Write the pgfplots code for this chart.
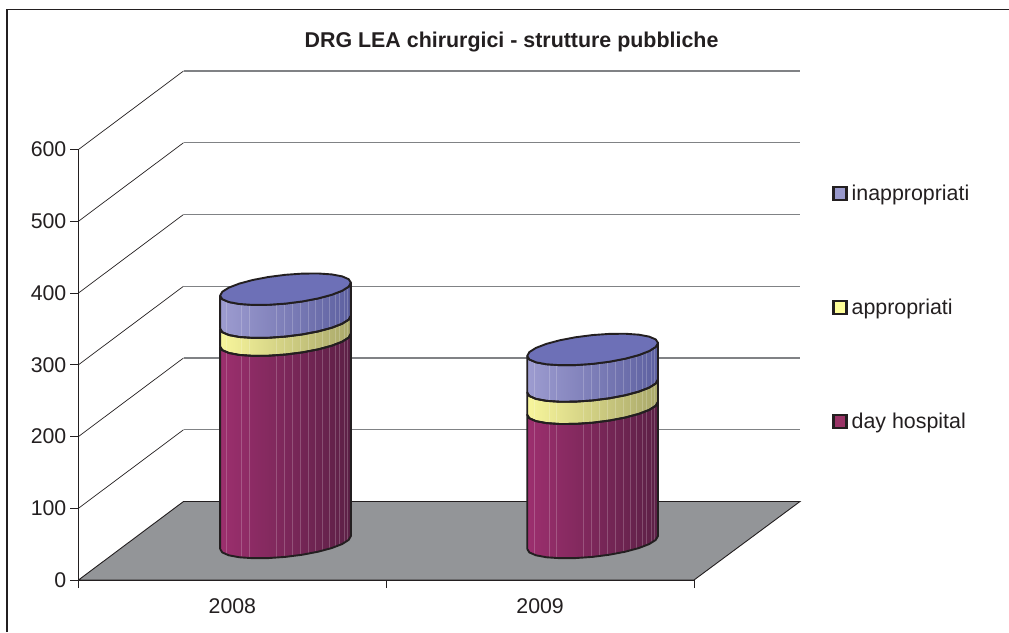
\documentclass[border=0pt]{standalone}
\usepackage{fontspec}
\setmainfont{Liberation Sans}
\usepackage{pgfplots}
\usepackage{pgfplotstable}
\pgfplotsset{compat=1.18}
\definecolor{ink}{HTML}{231F20}
\definecolor{floorc}{HTML}{939598}
\definecolor{gridc}{HTML}{808285}
\definecolor{dayA}{HTML}{9C2F6E}\definecolor{dayB}{HTML}{822B5F}\definecolor{dayC}{HTML}{5C2046}
\definecolor{appA}{HTML}{F8F69C}\definecolor{appB}{HTML}{DCDA88}\definecolor{appC}{HTML}{A9A86A}
\definecolor{inaA}{HTML}{9D9CD0}\definecolor{inaB}{HTML}{7F80BE}\definecolor{inaC}{HTML}{5D60A0}
\definecolor{capc}{HTML}{6D70B7}
\definecolor{legday}{HTML}{993366}\definecolor{legapp}{HTML}{FFFF99}\definecolor{legina}{HTML}{9999CC}
% outline of one slice of a cylinder, offsets in picture units
\pgfplotstableread{
dx dy lev
-65.40 -6.50 0
-63.17 -10.01 0
-56.64 -12.83 0
-46.24 -14.78 0
-32.70 -15.72 0
-16.93 -15.59 0
0.00 -14.40 0
16.93 -12.23 0
32.70 -9.22 0
46.24 -5.58 0
56.64 -1.57 0
63.17 2.55 0
65.40 6.50 0
65.40 6.50 1
63.17 2.55 1
56.64 -1.57 1
46.24 -5.58 1
32.70 -9.22 1
16.93 -12.23 1
0.00 -14.40 1
-16.93 -15.59 1
-32.70 -15.72 1
-46.24 -14.78 1
-56.64 -12.83 1
-63.17 -10.01 1
-65.40 -6.50 1
-65.40 -6.50 0
}\sidetab
\pgfplotstableread{
dx dy
-65.40 -6.50
-63.17 -10.01
-56.64 -12.83
-46.24 -14.78
-32.70 -15.72
-16.93 -15.59
0.00 -14.40
16.93 -12.23
32.70 -9.22
46.24 -5.58
56.64 -1.57
63.17 2.55
65.40 6.50
63.17 10.01
56.64 12.83
46.24 14.78
32.70 15.72
16.93 15.59
0.00 14.40
-16.93 12.23
-32.70 9.22
-46.24 5.58
-56.64 1.57
-63.17 -2.55
-65.40 -6.50
}\captab
\pgfplotstableread{
dx dy
-58.8 -12.15
-43.8 -15.04
-36.2 -15.60
-9.5 -15.19
-1.5 -14.55
6.8 -13.64
14.5 -12.60
22.8 -11.23
30.2 -9.77
37.2 -8.14
43.8 -6.34
49.5 -4.49
53.8 -2.83
58.5 -0.63
61.8 1.43
}\stripetab
% #1 centre, #2 from value, #3 to value, #4 colour stem
\newcommand\segfill[4]{\addplot[forget plot,draw=none,left color=#4A,middle color=#4B,right color=#4C]
 table[x expr=#1+\thisrow{dx}/307.75,y expr=52.3+#2+\thisrow{lev}*(#3-#2)+\thisrow{dy}/0.7175]{\sidetab};}
\newcommand\segline[3]{\addplot[forget plot,draw=ink,line width=1.9pt,line join=round,no marks]
 table[x expr=#1+\thisrow{dx}/307.75,y expr=52.3+#2+\thisrow{lev}*(#3-#2)+\thisrow{dy}/0.7175]{\sidetab};}
\newcommand\stripes[2]{\addplot[forget plot,draw=white,draw opacity=.2,line width=.6pt,no marks,quiver={u=0,v=#2}]
 table[x expr=#1+\thisrow{dx}/307.75,y expr=52.3+\thisrow{dy}/0.7175]{\stripetab};}
\newcommand\capell[2]{\addplot[forget plot,draw=ink,fill=capc,line width=1.9pt,line join=round,no marks]
 table[x expr=#1+\thisrow{dx}/307.75,y expr=52.3+#2+\thisrow{dy}/0.7175]{\captab};}
\newcommand\gridat[2]{\addplot[forget plot,draw=ink,line width=.7pt,no marks] coordinates {(0,#1) (0.3412,#2)};
 \addplot[forget plot,draw=gridc,line width=1.1pt,no marks] coordinates {(0.3412,#2) (2.3444,#2)};}
\begin{document}
\begin{tikzpicture}
\useasboundingbox (-78.5pt,-52pt) rectangle (930.5pt,580pt);
\draw[ink,line width=1.2pt] (-71.5pt,-52pt) -- (-71.5pt,570.5pt) -- (930.5pt,570.5pt);
\begin{axis}[
 scale only axis,width=615.5pt,height=430.5pt,
 xmin=0,xmax=2,ymin=0,ymax=600,clip=false,
 axis lines*=left,axis on top,
 axis line style={draw=ink,line width=.8pt},
 tick align=outside,major tick length=8pt,
 ytick={0,100,...,600},
 y tick style={draw=ink,line width=.8pt},
 /pgf/number format/assume math mode=true,
 yticklabel style={font=\fontsize{21.3}{25}\selectfont,text=ink,inner sep=0pt,xshift=-4pt},
 xtick={0.5,1.5},xticklabels={2008,2009},
 x tick style={draw=none},
 xticklabel style={font=\fontsize{21.3}{25}\selectfont,text=ink,yshift=-7pt},
 extra x ticks={0,1,2},extra x tick labels={},
 extra x tick style={x tick style={draw=ink,line width=.8pt}},
 title={\textbf{DRG LEA chirurgici - strutture pubbliche}},
 title style={at={(0.7035,1.2358)},anchor=center,font=\fontsize{21.4}{25}\selectfont,text=ink},
 legend style={at={(1.2242,0.6295)},anchor=west,draw=none,fill=none,inner sep=0pt,
   row sep=95pt,font=\fontsize{21.4}{25}\selectfont,text=ink,
   nodes={inner xsep=4pt,inner ysep=0pt,text height=15pt,text depth=4pt}},
 legend cell align=left,
]
\addlegendimage{legend image code/.code={\draw[ink,line width=2.4pt,fill=legina] (0pt,-5pt) rectangle (13pt,8pt);}}
\addlegendentry{inappropriati}
\addlegendimage{legend image code/.code={\draw[ink,line width=2.4pt,fill=legapp] (0pt,-5pt) rectangle (13pt,8pt);}}
\addlegendentry{appropriati}
\addlegendimage{legend image code/.code={\draw[ink,line width=2.4pt,fill=legday] (0pt,-5pt) rectangle (13pt,8pt);}}
\addlegendentry{day hospital}
\gridat{100}{209.4}\gridat{200}{309.4}\gridat{300}{409.4}\gridat{400}{509.4}\gridat{500}{609.4}\gridat{600}{709.4}
\addplot[forget plot,draw=ink,line width=.9pt,fill=floorc,no marks] coordinates {(0,0) (0.3412,109.4) (2.3444,109.4) (2,0) (0,0)};
% 2008: day hospital 282, appropriati 25, inappropriati 46
\segfill{0.6726}{0}{282}{day}\segfill{0.6726}{282}{307}{app}\segfill{0.6726}{307}{353}{ina}
\stripes{0.6726}{353}
\segline{0.6726}{0}{282}\segline{0.6726}{282}{307}\segline{0.6726}{307}{353}\capell{0.6726}{353}
% 2009: day hospital 187, appropriati 31, inappropriati 51
\segfill{1.6705}{0}{187}{day}\segfill{1.6705}{187}{218}{app}\segfill{1.6705}{218}{269}{ina}
\stripes{1.6705}{269}
\segline{1.6705}{0}{187}\segline{1.6705}{187}{218}\segline{1.6705}{218}{269}\capell{1.6705}{269}
\end{axis}
\end{tikzpicture}
\end{document}
